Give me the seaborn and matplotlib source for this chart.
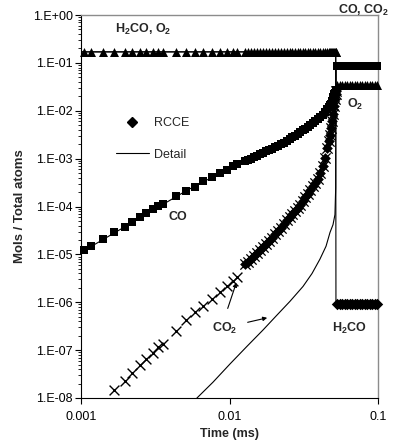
import numpy as np
import matplotlib
matplotlib.use('Agg')
import matplotlib.pyplot as plt
import matplotlib.ticker as mticker
from matplotlib.lines import Line2D
import seaborn as sns

# Values: time in ms, species as log10(mols / total atoms)
# RCCE output times, sparse part (before ~0.012 ms)
t_sparse = [1.05e-3, 1.16e-3, 1.41e-3, 1.67e-3, 1.97e-3, 2.21e-3, 2.51e-3, 2.75e-3,
            3.05e-3, 3.30e-3, 3.56e-3, 4.38e-3, 5.12e-3, 5.86e-3, 6.66e-3, 7.59e-3,
            8.63e-3, 9.58e-3, 1.06e-2, 1.12e-2]
co_sparse = [-4.90, -4.83, -4.67, -4.54, -4.42, -4.32, -4.22, -4.13, -4.05, -3.99,
             -3.94, -3.79, -3.67, -3.59, -3.47, -3.39, -3.30, -3.23, -3.16, -3.12]
co2_sparse = [np.nan, np.nan, np.nan, -7.83, -7.65, -7.48, -7.31, -7.19, -7.06, -6.94,
              -6.88, -6.60, -6.38, -6.21, -6.08, -5.94, -5.79, -5.67, -5.56, -5.48]

# RCCE output times, dense part (0.0127 ms up to ignition)
t_dense = [0.01272, 0.01332, 0.01396, 0.01462, 0.01532, 0.01605, 0.01681, 0.01761,
           0.01845, 0.01933, 0.02025, 0.02122, 0.02223, 0.02328, 0.02439, 0.02555,
           0.02656, 0.02761, 0.02871, 0.02984, 0.03102, 0.03225, 0.03353, 0.03485,
           0.03623, 0.03766, 0.03914, 0.04069, 0.04230, 0.04397, 0.04570, 0.04660,
           0.04752, 0.04826, 0.04901, 0.04977, 0.05055, 0.05114, 0.05174, 0.05200]
co_dense = [-3.06, -3.03, -3.00, -2.97, -2.94, -2.91, -2.88, -2.85, -2.82, -2.79,
            -2.76, -2.73, -2.70, -2.67, -2.63, -2.59, -2.55, -2.52, -2.48, -2.45,
            -2.41, -2.38, -2.34, -2.30, -2.26, -2.22, -2.18, -2.13, -2.08, -2.03,
            -1.97, -1.93, -1.89, -1.85, -1.80, -1.72, -1.66, -1.62, -1.58, -1.56]
co2_dense = [-5.21, -5.15, -5.09, -5.03, -4.97, -4.91, -4.85, -4.78, -4.72, -4.65,
             -4.58, -4.51, -4.44, -4.36, -4.29, -4.22, -4.16, -4.09, -4.03, -3.96,
             -3.89, -3.81, -3.73, -3.65, -3.57, -3.50, -3.42, -3.30, -3.16, -2.98,
             -2.78, -2.64, -2.50, -2.37, -2.22, -2.07, -1.90, -1.76, -1.65, -1.58]

# RCCE output times after ignition
t_after = [0.05296, 0.05505, 0.05723, 0.05949, 0.06184, 0.06429, 0.06683, 0.06947,
           0.07222, 0.07507, 0.07804, 0.08113, 0.08433, 0.08767, 0.09113, 0.09472,
           0.09847]

# plateaus
h2co_o2_start = -0.77
co_co2_end = -1.06
o2_end = -1.46
h2co_end = -6.03

# detailed-kinetics curves
t_det_h2co = [0.001, 0.0512, 0.0519, 0.0521, 0.1]
det_h2co = [-0.77, -0.77, -0.84, -6.11, -6.11]
t_det_o2 = [0.001, 0.0519, 0.0521, 0.1]
det_o2 = [-0.77, -0.77, -1.46, -1.46]
t_det_co = [0.001, 0.00512, 0.0106, 0.0127, 0.0243, 0.0348, 0.0454, 0.0498, 0.0513,
            0.0520, 0.0521, 0.1]
det_co = [-4.96, -3.67, -3.16, -3.06, -2.67, -2.33, -1.98, -1.71, -1.58, -1.56,
          -1.06, -1.06]
t_det_co2 = [5.7e-3, 6.13e-3, 7.74e-3, 1.007e-2, 1.312e-2, 1.681e-2, 2.056e-2,
             2.555e-2, 3.126e-2, 3.594e-2, 4.064e-2, 4.467e-2, 4.753e-2, 4.977e-2,
             5.13e-2, 5.19e-2, 5.20e-2, 5.21e-2, 0.1]
det_co2 = [-8.08, -7.98, -7.67, -7.29, -6.92, -6.58, -6.29, -5.98, -5.67, -5.40,
           -5.10, -4.83, -4.54, -4.38, -4.17, -3.60, -2.00, -1.06, -1.06]

y_ticks = [1e-8, 1e-7, 1e-6, 1e-5, 1e-4, 1e-3, 1e-2, 1e-1, 1e0]
y_tick_labels = ['1.E-08', '1.E-07', '1.E-06', '1.E-05', '1.E-04', '1.E-03',
                 '1.E-02', '1.E-01', '1.E+00']
x_ticks = [0.001, 0.01, 0.1]
x_tick_labels = ['0.001', '0.01', '0.1']

sns.set_theme(style='ticks')
plt.rcParams['font.family'] = ['Liberation Sans', 'DejaVu Sans']
plt.rcParams['mathtext.fontset'] = 'custom'
plt.rcParams['mathtext.rm'] = 'Liberation Sans'
plt.rcParams['mathtext.bf'] = 'Liberation Sans:bold'
plt.rcParams['mathtext.it'] = 'Liberation Sans:italic'


def lin(v):
    return np.power(10.0, np.asarray(v, dtype=float))


fig = plt.figure(figsize=(3.93, 4.42), dpi=100)
ax = fig.add_axes([81 / 393, 44 / 442, 297 / 393, 383 / 442])
ax.set_xscale('log')
ax.set_yscale('log')

# detail lines
for tt, vv in [(t_det_h2co, det_h2co), (t_det_o2, det_o2),
               (t_det_co, det_co), (t_det_co2, det_co2)]:
    sns.lineplot(x=tt, y=lin(vv), sort=False, estimator=None, color='black',
                 lw=0.8, ax=ax)

t_before = t_sparse + t_dense
mk = dict(color='black', edgecolor='black', linewidth=0, ax=ax, clip_on=False, zorder=3)

# O2 / H2CO plateau before ignition
sns.scatterplot(x=t_before, y=lin(np.full(len(t_before), h2co_o2_start)),
                marker='^', s=42, **mk)
# CO
sns.scatterplot(x=t_before, y=lin(co_sparse + co_dense), marker='s', s=36, **mk)
# CO2
sns.scatterplot(x=t_sparse, y=lin(co2_sparse), marker='x', s=50, color='black',
                linewidth=1.0, ax=ax, zorder=3)
sns.scatterplot(x=t_dense, y=lin(co2_dense), marker='D', s=30, **mk)
sns.scatterplot(x=t_dense, y=lin(co2_dense), marker='x', s=55, color='black',
                linewidth=0.9, ax=ax, zorder=4)
# after ignition
n_after = len(t_after)
sns.scatterplot(x=t_after, y=lin(np.full(n_after, co_co2_end)), marker='s', s=40, **mk)
sns.scatterplot(x=t_after, y=lin(np.full(n_after, o2_end)), marker='^', s=42, **mk)
sns.scatterplot(x=t_after, y=lin(np.full(n_after, h2co_end)), marker='D', s=34, **mk)

ax.set_xlim(0.001, 0.1)
ax.set_ylim(1e-8, 1)
ax.xaxis.set_major_locator(mticker.FixedLocator(x_ticks))
ax.xaxis.set_major_formatter(mticker.FixedFormatter(x_tick_labels))
ax.xaxis.set_minor_locator(mticker.NullLocator())
ax.yaxis.set_major_locator(mticker.FixedLocator(y_ticks))
ax.yaxis.set_major_formatter(mticker.FixedFormatter(y_tick_labels))
ax.yaxis.set_minor_locator(mticker.LogLocator(base=10, subs=np.arange(2, 10), numticks=20))
ax.yaxis.set_minor_formatter(mticker.NullFormatter())

ax.tick_params(axis='both', which='major', direction='out', length=4, width=0.8,
               labelsize=9, color='black', labelcolor='black')
ax.tick_params(axis='y', which='major', pad=2)
ax.tick_params(axis='x', which='major', pad=5)
ax.tick_params(axis='y', which='minor', direction='out', length=2, width=0.6, color='black')
for side in ['top', 'right']:
    ax.spines[side].set_color('#8c8c8c')
    ax.spines[side].set_linewidth(1.0)
for side in ['left', 'bottom']:
    ax.spines[side].set_color('black')
    ax.spines[side].set_linewidth(0.8)

ax.set_xlabel('Time (ms)', fontsize=9, fontweight='bold', labelpad=4)
ax.set_ylabel('Mols / Total atoms', fontsize=9.5, fontweight='bold', labelpad=5)

# annotations (positions in axes fractions)
lab = dict(fontsize=9, fontweight='bold', ha='left', va='baseline', transform=ax.transAxes)
ax.text(0.1145, 0.953, r'H$_\mathbf{2}$CO, O$_\mathbf{2}$', **lab)
ax.text(0.865, 1.004, r'CO, CO$_\mathbf{2}$', **lab)
ax.text(0.896, 0.757, r'O$_\mathbf{2}$', **lab)
ax.text(0.293, 0.465, 'CO', **lab)
ax.text(0.440, 0.172, r'CO$_\mathbf{2}$', **lab)
ax.text(0.844, 0.172, r'H$_\mathbf{2}$CO', **lab)

arrow = dict(arrowstyle='-|>', lw=0.8, color='black', mutation_scale=6)
ax.annotate('', xy=(0.526, 0.308), xytext=(0.491, 0.227),
            xycoords='axes fraction', arrowprops=arrow)
ax.annotate('', xy=(0.636, 0.211), xytext=(0.552, 0.196),
            xycoords='axes fraction', arrowprops=arrow)

handles = [Line2D([], [], marker='D', color='black', linestyle='none', markersize=5.5),
           Line2D([], [], color='black', lw=0.8)]
ax.legend(handles, ['RCCE', 'Detail'], loc='center left',
          bbox_to_anchor=(0.118, 0.676), frameon=False, fontsize=9,
          handlelength=2.6, handletextpad=0.4, labelspacing=1.55,
          borderpad=0, borderaxespad=0)

fig.savefig('out.png', dpi=100)
